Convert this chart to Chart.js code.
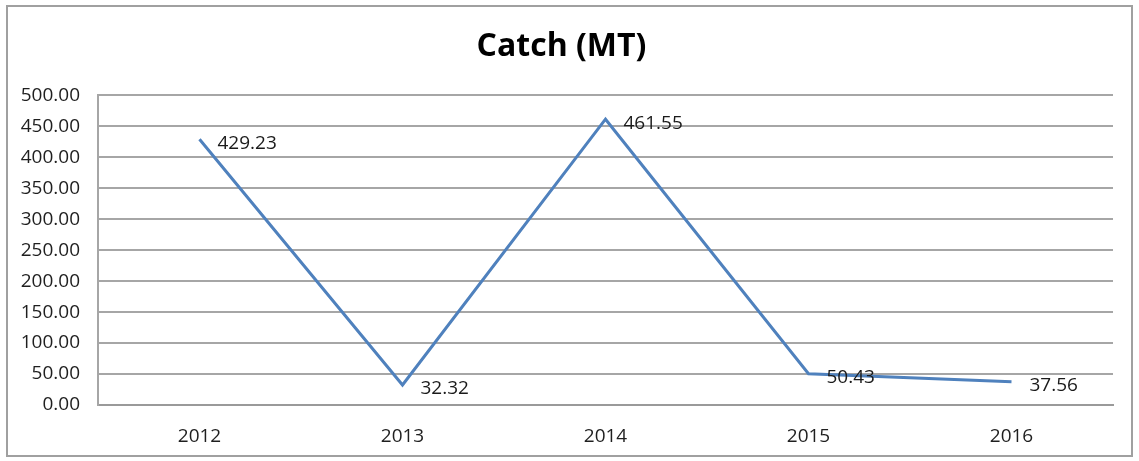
<!DOCTYPE html>
<html>
<head>
<meta charset="utf-8">
<script src="https://cdn.jsdelivr.net/npm/chart.js@4"></script>
<style>
html,body{margin:0;padding:0;background:#fff;}
#wrap{width:1139px;height:461px;position:relative;}
</style>
</head>
<body>
<div id="wrap"><canvas id="c" width="1139" height="461"></canvas></div>
<script>
const categories = ["2012", "2013", "2014", "2015", "2016"];
const catchValues = [429.23, 32.32, 461.55, 50.43, 37.56];
const yTicks = [0, 50, 100, 150, 200, 250, 300, 350, 400, 450, 500];
const chartTitle = "Catch (MT)";

const FONT = "'Open Sans', Lato, sans-serif";

const frame = {
  id: 'frame',
  beforeDraw(chart) {
    const ctx = chart.ctx;
    ctx.save();
    ctx.fillStyle = '#fff';
    ctx.fillRect(0, 0, chart.width, chart.height);
    ctx.strokeStyle = '#a0a0a0';
    ctx.lineWidth = 2;
    ctx.strokeRect(7, 6, chart.width - 14, chart.height - 11);
    ctx.restore();
  }
};

const valueLabels = {
  id: 'valueLabels',
  afterDatasetsDraw(chart) {
    const ctx = chart.ctx;
    const meta = chart.getDatasetMeta(0);
    ctx.save();
    ctx.font = "19px " + FONT;
    ctx.fillStyle = '#1a1a1a';
    ctx.textAlign = 'left';
    ctx.textBaseline = 'middle';
    meta.data.forEach((pt, i) => {
      ctx.fillText(catchValues[i].toFixed(2), pt.x + 18, pt.y + 4);
    });
    ctx.restore();
  }
};

new Chart(document.getElementById('c'), {
  type: 'line',
  data: {
    labels: categories,
    datasets: [{
      data: catchValues,
      borderColor: '#4F81BD',
      borderWidth: 3,
      pointRadius: 0,
      tension: 0,
      fill: false
    }]
  },
  options: {
    responsive: false,
    animation: false,
    devicePixelRatio: 1,
    layout: { padding: { left: 10, right: 26, top: 0, bottom: 0 } },
    plugins: {
      legend: { display: false },
      tooltip: { enabled: false },
      title: {
        display: true,
        text: chartTitle,
        color: '#000',
        font: { family: FONT, size: 32, weight: 'bold', lineHeight: 1.2 },
        padding: { top: 28, bottom: 29 }
      }
    },
    scales: {
      x: {
        type: 'category',
        offset: true,
        afterFit(scale) { scale.height = 56; },
        grid: { display: false, drawTicks: false },
        border: { display: true, color: '#9a9a9a', width: 2 },
        ticks: { color: '#1f1f1f', font: { family: FONT, size: 19 }, padding: 20, maxRotation: 0 }
      },
      y: {
        min: 0,
        max: 500,
        afterFit(scale) { scale.width = 88; },
        afterBuildTicks(scale) { scale.ticks = yTicks.map(v => ({ value: v })); },
        grid: { color: '#a6a6a6', lineWidth: 2, drawTicks: false },
        border: { display: true, color: '#a6a6a6', width: 2 },
        ticks: {
          color: '#1f1f1f',
          font: { family: FONT, size: 19 },
          padding: 18,
          callback: v => Number(v).toFixed(2)
        }
      }
    }
  },
  plugins: [frame, valueLabels]
});
</script>
</body>
</html>
